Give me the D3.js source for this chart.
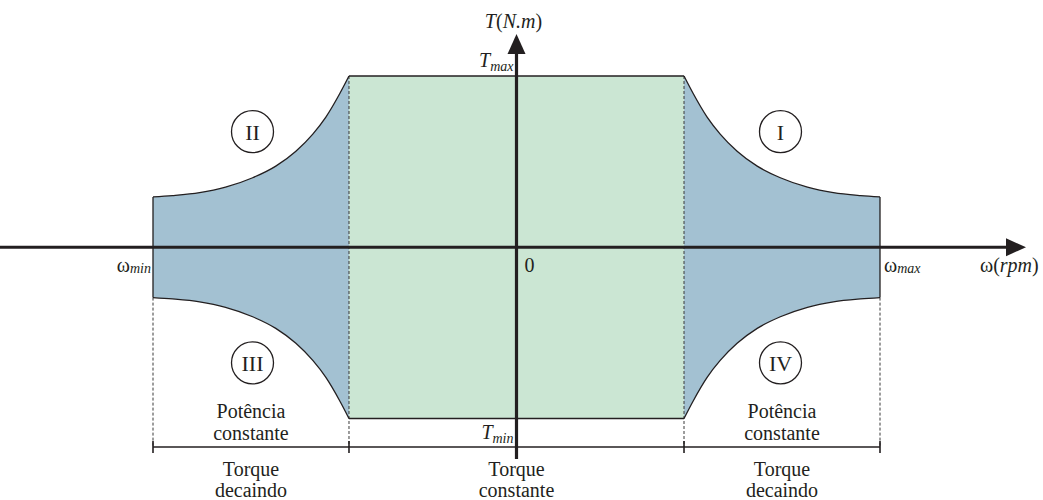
<!DOCTYPE html>
<html>
<head>
<meta charset="utf-8">
<script src="https://cdn.jsdelivr.net/npm/d3@7/dist/d3.min.js"></script>
<style>
  html, body { margin: 0; padding: 0; background: #fff; }
  svg { display: block; }
</style>
</head>
<body>
<svg id="chart" width="1043" height="500"></svg>
<script>
// Operating regions of a motor drive: torque vs. speed (normalised units)
const omegaBase = 1;      // end of the constant-torque zone
const omegaMax = 2.17;    // maximum speed
const torqueMax = 1;      // rated torque

// Constant-power boundary of quadrant I (speed, torque); mirrored into II, III, IV
const powerOmega  = [1.0, 1.054, 1.138, 1.216, 1.317, 1.437, 1.575, 1.737, 1.892, 2.054, 2.17];
const powerTorque = [1.0, 0.899, 0.760, 0.661, 0.561, 0.474, 0.406, 0.351, 0.319, 0.302, 0.294];

// Quadrant names with the sign of speed and torque in each
const quadrants = [
  { name: "I",   sw:  1, st:  1 },
  { name: "II",  sw: -1, st:  1 },
  { name: "III", sw: -1, st: -1 },
  { name: "IV",  sw:  1, st: -1 }
];
const quadrantLabelAt = { omega: 1.576, torque: 0.675 };

// Zone captions
const powerZoneText = ["Potência", "constante"];
const torqueZoneText = [
  { from: -omegaMax,  to: -omegaBase, lines: ["Torque", "decaindo"] },
  { from: -omegaBase, to:  omegaBase, lines: ["Torque", "constante"] },
  { from:  omegaBase, to:  omegaMax,  lines: ["Torque", "decaindo"] }
];

const serif = "'Liberation Serif', 'Times New Roman', Tinos, 'DejaVu Serif', serif";
const svg = d3.select("#chart")
  .attr("font-family", serif)
  .style("font-family", serif);
const ink = "#231f20";
const green = "#cbe6d3";
const blue = "#a3c1d2";

const x = d3.scaleLinear().domain([-omegaMax, omegaMax]).range([153, 880]);
const y = d3.scaleLinear().domain([-torqueMax, torqueMax]).range([418.5, 76]);
const dimY = 447;   // dimension line under the plot

const profile = powerOmega.map((w, i) => ({ w, t: powerTorque[i] }));

function addText(px, py, size, anchor) {
  return svg.append("text")
    .attr("x", px).attr("y", py)
    .attr("font-size", size)
    .attr("font-family", serif)
    .style("font-family", serif)
    .attr("fill", ink)
    .attr("text-anchor", anchor || "start");
}

// Constant-torque rectangle
svg.append("rect")
  .attr("x", x(-omegaBase)).attr("y", y(torqueMax))
  .attr("width", x(omegaBase) - x(-omegaBase))
  .attr("height", y(-torqueMax) - y(torqueMax))
  .attr("fill", green);

// Field-weakening (constant power) regions on both sides
[1, -1].forEach(side => {
  const pts = profile.map(p => ({ w: side * p.w, t: p.t })).sort((a, b) => a.w - b.w);
  const area = d3.area()
    .x(d => x(d.w)).y0(d => y(-d.t)).y1(d => y(d.t))
    .curve(d3.curveMonotoneX);
  svg.append("path").attr("d", area(pts)).attr("fill", blue);
});

// Dashed guides down to the dimension line
const tEnd = powerTorque[powerTorque.length - 1];
const dashed = [
  { w: -omegaBase, t: torqueMax },
  { w:  omegaBase, t: torqueMax },
  { w: -omegaMax, t: -tEnd },
  { w:  omegaMax, t: -tEnd }
];
svg.selectAll("line.guide").data(dashed).enter().append("line")
  .attr("class", "guide")
  .attr("x1", d => x(d.w)).attr("x2", d => x(d.w))
  .attr("y1", d => y(d.t)).attr("y2", dimY)
  .attr("stroke", "#3a3a3a").attr("stroke-width", 1)
  .attr("stroke-dasharray", "3,2");

// Outlines of the constant-power curves
quadrants.forEach(q => {
  const pts = profile.map(p => ({ w: q.sw * p.w, t: q.st * p.t })).sort((a, b) => a.w - b.w);
  const line = d3.line().x(d => x(d.w)).y(d => y(d.t)).curve(d3.curveMonotoneX);
  svg.append("path").attr("d", line(pts))
    .attr("fill", "none").attr("stroke", ink).attr("stroke-width", 1.3);
});
// Vertical edges at the speed limits
[-omegaMax, omegaMax].forEach(w => {
  svg.append("line")
    .attr("x1", x(w)).attr("x2", x(w))
    .attr("y1", y(tEnd)).attr("y2", y(-tEnd))
    .attr("stroke", ink).attr("stroke-width", 1.3);
});
// Torque limits
[torqueMax, -torqueMax].forEach(t => {
  svg.append("line")
    .attr("x1", x(-omegaBase)).attr("x2", x(omegaBase))
    .attr("y1", y(t)).attr("y2", y(t))
    .attr("stroke", ink).attr("stroke-width", 1.3);
});

// Dimension line with ticks at the zone limits
svg.append("line")
  .attr("x1", x(-omegaMax)).attr("x2", x(omegaMax))
  .attr("y1", dimY).attr("y2", dimY)
  .attr("stroke", ink).attr("stroke-width", 1.4);
[-omegaMax, -omegaBase, omegaBase, omegaMax].forEach(w => {
  svg.append("line")
    .attr("x1", x(w)).attr("x2", x(w))
    .attr("y1", dimY - 6).attr("y2", dimY + 6)
    .attr("stroke", ink).attr("stroke-width", 1.6);
});

// Axes with arrow heads
const x0 = x(0), y0 = y(0);
svg.append("line").attr("x1", 0).attr("x2", 1010).attr("y1", y0).attr("y2", y0)
  .attr("stroke", ink).attr("stroke-width", 3.2);
svg.append("path")
  .attr("d", `M1026,${y0} L1006,${y0 - 9} L1006,${y0 + 9} Z`).attr("fill", ink);
svg.append("line").attr("x1", x0).attr("x2", x0).attr("y1", 50).attr("y2", 459)
  .attr("stroke", ink).attr("stroke-width", 3.2);
svg.append("path")
  .attr("d", `M${x0},34 L${x0 - 9},54 L${x0 + 9},54 Z`).attr("fill", ink);

// Axis titles
const tTitle = addText(x0 - 3, 28, 20, "middle");
tTitle.append("tspan").attr("font-style", "italic").text("T");
tTitle.append("tspan").text("(");
tTitle.append("tspan").attr("font-style", "italic").text("N.m");
tTitle.append("tspan").text(")");

const wTitle = addText(980, 272, 20, "start");
wTitle.append("tspan").text("ω(");
wTitle.append("tspan").attr("font-style", "italic").text("rpm");
wTitle.append("tspan").text(")");

// Subscripted limit labels
function subLabel(px, py, anchor, main, mainItalic, sub, subDy) {
  const t = addText(px, py, 20, anchor);
  t.append("tspan").attr("font-style", mainItalic ? "italic" : "normal").text(main);
  t.append("tspan").attr("font-style", "italic").attr("font-size", 14)
    .attr("dy", subDy).text(sub);
}
subLabel(x0 - 3, y(torqueMax) - 9, "end", "T", true, "max", 4);
subLabel(x0 - 3, y(-torqueMax) + 20, "end", "T", true, "min", 4);
subLabel(x(-omegaMax) - 2, 272, "end", "ω", false, "min", 1);
subLabel(x(omegaMax) + 4, 272, "start", "ω", false, "max", 1);

addText(x0 + 13, 272, 20, "middle").text("0");

// Quadrant markers
quadrants.forEach(q => {
  const cx = x(q.sw * quadrantLabelAt.omega), cy = y(q.st * quadrantLabelAt.torque);
  svg.append("circle").attr("cx", cx).attr("cy", cy).attr("r", 21)
    .attr("fill", "none").attr("stroke", ink).attr("stroke-width", 1.3);
  addText(cx, cy + 8, 22, "middle").text(q.name);
});

// Zone captions
[-1, 1].forEach(side => {
  const cx = x(side * (omegaBase + omegaMax) / 2);
  powerZoneText.forEach((s, i) => {
    addText(cx, 418 + i * 22, 20, "middle").text(s);
  });
});
torqueZoneText.forEach(z => {
  const cx = x((z.from + z.to) / 2);
  z.lines.forEach((s, i) => {
    addText(cx, 476 + i * 21, 20, "middle").text(s);
  });
});
</script>
</body>
</html>
